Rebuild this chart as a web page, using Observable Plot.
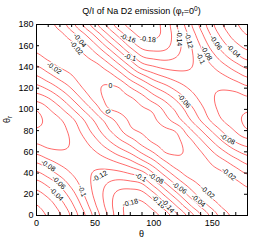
<!DOCTYPE html>
<html><head><meta charset="utf-8">
<script src="https://cdn.jsdelivr.net/npm/d3@7"></script>
<script src="https://cdn.jsdelivr.net/npm/@observablehq/plot@0.6"></script>
<style>body{margin:0;background:#fff} svg{display:block}</style>
</head><body><div id="chart"></div>
<script>
// Q/I grid: columns theta = 0,10,...,180 ; one array per theta_r row
const thetaCols = [0,10,20,30,40,50,60,70,80,90,100,110,120,130,140,150,160,170,180];
const thetaRRows = [0,10,20,30,40,50,60,70,80,90,100,110,120,130,140,150,160,170,180];
const row0   = [0.004,-0.002,-0.018,-0.044,-0.075,-0.108,-0.139,-0.172,-0.186,-0.192,-0.186,-0.170,-0.143,-0.113,-0.082,-0.052,-0.028,-0.013,-0.008];
const row10  = [0.000,-0.010,-0.030,-0.056,-0.087,-0.118,-0.146,-0.173,-0.184,-0.185,-0.170,-0.145,-0.115,-0.083,-0.054,-0.031,-0.014,-0.008,-0.009];
const row20  = [-0.013,-0.026,-0.046,-0.071,-0.099,-0.125,-0.147,-0.166,-0.171,-0.167,-0.145,-0.114,-0.084,-0.055,-0.031,-0.014,-0.008,-0.008,-0.014];
const row30  = [-0.032,-0.046,-0.065,-0.087,-0.108,-0.126,-0.140,-0.148,-0.147,-0.140,-0.112,-0.082,-0.054,-0.032,-0.017,-0.013,-0.009,-0.015,-0.024];
const row40  = [-0.056,-0.070,-0.086,-0.101,-0.113,-0.122,-0.126,-0.125,-0.118,-0.107,-0.079,-0.051,-0.028,-0.012,-0.009,-0.014,-0.019,-0.030,-0.042];
const row50  = [-0.081,-0.093,-0.104,-0.111,-0.114,-0.113,-0.108,-0.099,-0.087,-0.068,-0.047,-0.023,-0.007,-0.006,-0.010,-0.023,-0.035,-0.050,-0.064];
const row60  = [-0.105,-0.114,-0.118,-0.117,-0.111,-0.101,-0.087,-0.071,-0.056,-0.036,-0.018,0.001,0.002,-0.004,-0.019,-0.039,-0.058,-0.076,-0.088];
const row70  = [-0.124,-0.129,-0.127,-0.118,-0.104,-0.086,-0.065,-0.046,-0.030,-0.011,0.003,0.007,0.004,-0.013,-0.036,-0.060,-0.083,-0.102,-0.113];
const row80  = [-0.137,-0.133,-0.127,-0.114,-0.093,-0.070,-0.046,-0.026,-0.005,0.003,0.008,0.004,-0.004,-0.033,-0.058,-0.083,-0.105,-0.122,-0.138];
const row90  = [-0.146,-0.133,-0.122,-0.105,-0.081,-0.056,-0.032,-0.013,0.003,0.006,0.003,-0.013,-0.032,-0.056,-0.081,-0.105,-0.122,-0.133,-0.146];
const row100 = [-0.138,-0.122,-0.105,-0.083,-0.058,-0.033,-0.004,0.004,0.008,0.003,-0.005,-0.026,-0.046,-0.070,-0.093,-0.114,-0.127,-0.133,-0.137];
const row110 = [-0.113,-0.102,-0.083,-0.060,-0.036,-0.013,0.004,0.007,0.003,-0.011,-0.030,-0.046,-0.065,-0.086,-0.104,-0.118,-0.127,-0.129,-0.124];
const row120 = [-0.088,-0.076,-0.058,-0.039,-0.019,-0.004,0.002,0.001,-0.018,-0.036,-0.056,-0.071,-0.087,-0.101,-0.111,-0.117,-0.118,-0.114,-0.105];
const row130 = [-0.064,-0.050,-0.035,-0.023,-0.010,-0.006,-0.007,-0.023,-0.047,-0.068,-0.087,-0.099,-0.108,-0.113,-0.114,-0.111,-0.104,-0.093,-0.081];
const row140 = [-0.042,-0.030,-0.019,-0.014,-0.009,-0.012,-0.028,-0.051,-0.079,-0.107,-0.118,-0.125,-0.126,-0.122,-0.113,-0.101,-0.086,-0.070,-0.056];
const row150 = [-0.024,-0.015,-0.009,-0.013,-0.017,-0.032,-0.054,-0.082,-0.112,-0.140,-0.147,-0.148,-0.140,-0.126,-0.108,-0.087,-0.065,-0.046,-0.032];
const row160 = [-0.014,-0.008,-0.008,-0.014,-0.031,-0.055,-0.084,-0.114,-0.145,-0.167,-0.171,-0.166,-0.147,-0.125,-0.099,-0.071,-0.046,-0.026,-0.013];
const row170 = [-0.009,-0.008,-0.014,-0.031,-0.054,-0.083,-0.115,-0.145,-0.170,-0.185,-0.184,-0.173,-0.146,-0.118,-0.087,-0.056,-0.030,-0.010,0.000];
const row180 = [-0.008,-0.013,-0.028,-0.052,-0.082,-0.113,-0.143,-0.170,-0.186,-0.192,-0.186,-0.172,-0.139,-0.108,-0.075,-0.044,-0.018,-0.002,0.004];

const levels = [-0.18,-0.16,-0.14,-0.12,-0.1,-0.08,-0.06,-0.04,-0.02,0];

const xTicks = [0,10,20,30,40,50,60,70,80,90,100,110,120,130,140,150,160,170,180];
const xTickLabels = [0,50,100,150];
const yTicks = [0,20,40,60,80,100,120,140,160,180];

// contour labels (clabel)
const labelTheta  = [95,78,122,130,153,145,140,168,80,37,34,15,63,61,126,163,164,10,19,17,39,54,80,89,102,122,138,146,104,112];
const labelThetaR = [166,167,167,165,163,153,148,155,149,165,158,139,122,98,108,72,39,47,31,20,23,37,12,36,35,26,14,22,13,9];
const labelText   = ["-0.18","-0.16","-0.14","-0.12","-0.06","-0.08","-0.1","-0.04","-0.1","-0.04","-0.02","-0.02","0","0","-0.06","-0.08","-0.02","-0.08","-0.06","-0.04","-0.1","-0.12","-0.18","-0.1","-0.08","-0.06","-0.04","-0.02","-0.16","-0.14"];
const labelAngle  = [5,20,90,75,55,60,65,45,15,50,50,35,0,60,50,30,40,35,45,45,70,-30,-15,30,30,35,40,40,45,50];

const rows = [row0,row10,row20,row30,row40,row50,row60,row70,row80,row90,row100,row110,row120,row130,row140,row150,row160,row170,row180];
const points = [];
rows.forEach((r, j) => r.forEach((q, i) => points.push({theta: thetaCols[i], thetaR: thetaRRows[j], q})));
const labels = labelText.map((t,i)=>({x:labelTheta[i], y:labelThetaR[i], t, a:labelAngle[i]}));

// smooth (cubic) raster sampling of the regular grid, handed to Plot's contour
function cubicGrid(index, w, h, X, Y, V) {
  let minX=Infinity, maxX=-Infinity, minY=Infinity, maxY=-Infinity;
  for (const i of index) {
    if (X[i]<minX) minX=X[i]; if (X[i]>maxX) maxX=X[i];
    if (Y[i]<minY) minY=Y[i]; if (Y[i]>maxY) maxY=Y[i];
  }
  const n = thetaCols.length, m = thetaRRows.length;
  const sx = (maxX-minX)/(n-1), sy = (maxY-minY)/(m-1);
  const G = Array.from({length: m}, () => new Array(n).fill(0));
  for (const i of index) {
    const c = Math.round((X[i]-minX)/sx), r = Math.round((Y[i]-minY)/sy);
    G[r][c] = V[i];
  }
  const g = (r,c) => G[Math.max(0,Math.min(m-1,r))][Math.max(0,Math.min(n-1,c))];
  const cr = (p0,p1,p2,p3,t) => 0.5*((2*p1)+(-p0+p2)*t+(2*p0-5*p1+4*p2-p3)*t*t+(-p0+3*p1-3*p2+p3)*t*t*t);
  const out = new Float64Array(w*h);
  for (let py=0; py<h; py++) {
    const v = (py+0.5-minY)/sy, r = Math.floor(v), tv = v-r;
    for (let px=0; px<w; px++) {
      const u = (px+0.5-minX)/sx, c = Math.floor(u), tu = u-c;
      const a0 = cr(g(r-1,c-1),g(r-1,c),g(r-1,c+1),g(r-1,c+2),tu);
      const a1 = cr(g(r,c-1),g(r,c),g(r,c+1),g(r,c+2),tu);
      const a2 = cr(g(r+1,c-1),g(r+1,c),g(r+1,c+1),g(r+1,c+2),tu);
      const a3 = cr(g(r+2,c-1),g(r+2,c),g(r+2,c+1),g(r+2,c+2),tu);
      out[py*w+px] = cr(a0,a1,a2,a3,tv);
    }
  }
  return out;
}

const W=274, H=242, mL=36, mR=27, mT=24, mB=27;
const pw = W-mL-mR, ph = H-mT-mB, tk = 3;

const plot = Plot.plot({
  width: W, height: H, marginLeft: mL, marginRight: mR, marginTop: mT, marginBottom: mB,
  style: {fontFamily: "'Liberation Sans', Arial, sans-serif", fontSize: "9px", background: "white", color: "black"},
  x: {domain: [0,180]},
  y: {domain: [0,180]},
  marks: [
    Plot.contour(points, {x: "theta", y: "thetaR", value: "q", interpolate: cubicGrid, pixelSize: 1,
      thresholds: levels, stroke: "#ff1a1a", strokeWidth: 0.65, fill: "none", clip: true}),
    Plot.text(labels, {x: "x", y: "y", text: "t", rotate: "a", fontSize: 7, fill: "black",
      stroke: "white", strokeWidth: 2.5}),
    Plot.frame({stroke: "#000", strokeWidth: 1}),
    Plot.tickX(xTicks, {x: d=>d, insetTop: ph-tk, stroke: "#000"}),
    Plot.tickX(xTicks, {x: d=>d, insetBottom: ph-tk, stroke: "#000"}),
    Plot.tickY(yTicks, {y: d=>d, insetRight: pw-tk, stroke: "#000"}),
    Plot.tickY(yTicks, {y: d=>d, insetLeft: pw-tk, stroke: "#000"}),
    Plot.axisX(xTickLabels, {tickSize: 0, tickPadding: 4, label: null}),
    Plot.axisY(yTicks, {tickSize: 0, tickPadding: 3, label: null})
  ]
});

const svg = d3.select(plot);
const title = svg.append("text").attr("x", mL + pw/2).attr("y", 14).attr("text-anchor", "middle")
  .attr("font-size", 9).attr("fill", "#000");
title.append("tspan").text("Q/I of Na D2 emission (φ");
title.append("tspan").attr("font-size", 6.5).attr("dy", 2).text("r");
title.append("tspan").attr("dy", -2).text("=0");
title.append("tspan").attr("font-size", 6.5).attr("dy", -3.5).text("0");
title.append("tspan").attr("dy", 3.5).text(")");

svg.append("text").attr("x", mL + pw/2).attr("y", H-5).attr("text-anchor", "middle")
  .attr("font-size", 9).attr("fill", "#000").text("θ");

const yl = svg.append("text").attr("transform", `translate(10,${mT + ph/2}) rotate(-90)`)
  .attr("text-anchor", "middle").attr("font-size", 9).attr("fill", "#000");
yl.append("tspan").text("θ");
yl.append("tspan").attr("font-size", 6.5).attr("dy", 2).text("r");

document.getElementById("chart").appendChild(plot);
</script>
</body></html>
